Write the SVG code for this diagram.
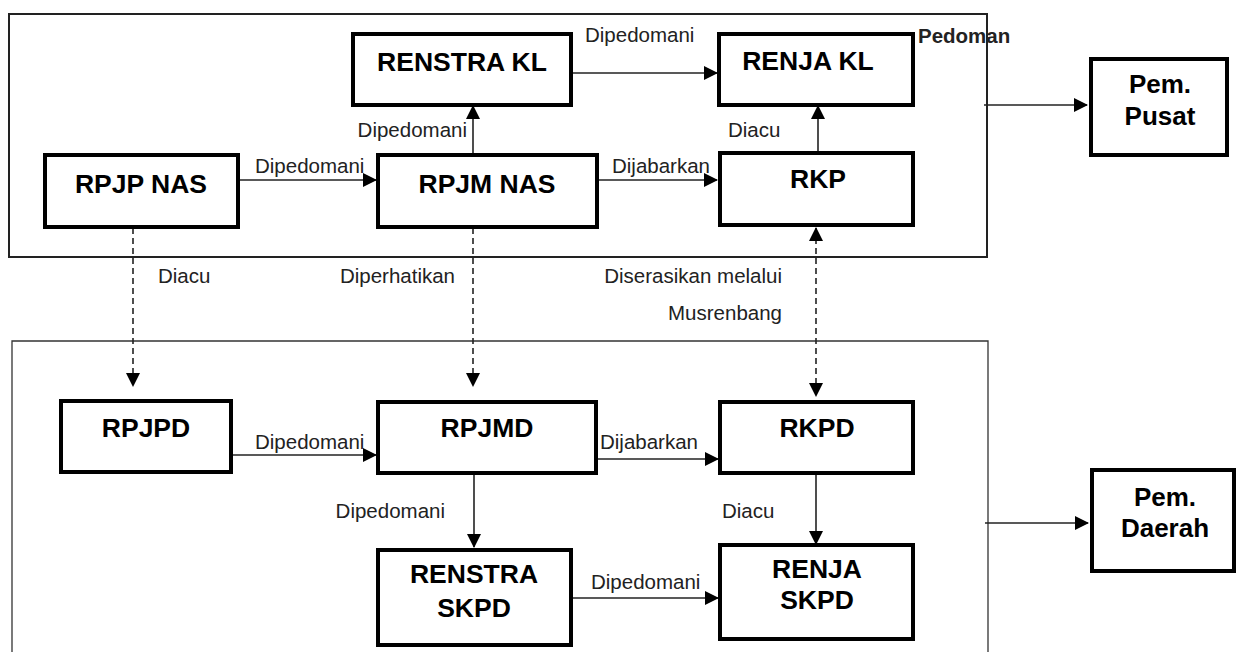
<svg xmlns="http://www.w3.org/2000/svg" width="1239" height="652" viewBox="0 0 1239 652">
<style>
.frame{fill:none;stroke:#222;stroke-width:2}
.frame2{fill:none;stroke:#333;stroke-width:1.3}
.box{fill:#fff;stroke:#000;stroke-width:4}
.nt{font-family:"Liberation Sans",Arial,sans-serif;font-weight:bold;font-size:26.5px;fill:#000;text-anchor:middle}
.pt{font-family:"Liberation Sans",Arial,sans-serif;font-weight:bold;font-size:26px;fill:#000;text-anchor:middle}
.lb{font-family:"Liberation Sans",Arial,sans-serif;font-size:20.5px;fill:#222}
.ln{stroke:#222;stroke-width:1.6;fill:none}
.dl{stroke:#222;stroke-width:1.6;fill:none;stroke-dasharray:6,4}
</style>
<defs>
<marker id="ah" markerWidth="14" markerHeight="14" refX="13" refY="7" orient="auto" markerUnits="userSpaceOnUse">
<path d="M0,0 L14,7 L0,14 z" fill="#000"/>
</marker>
<marker id="as" markerWidth="14" markerHeight="14" refX="1" refY="7" orient="auto" markerUnits="userSpaceOnUse">
<path d="M14,0 L0,7 L14,14 z" fill="#000"/>
</marker>
</defs>
<rect class="frame" x="9" y="14" width="978" height="243"/>
<path class="frame2" d="M12,652 L12,341 L988,341 L988,652"/>
<g id="connectors">
<line class="ln" x1="231" y1="180" x2="376" y2="180" marker-end="url(#ah)"/>
<line class="ln" x1="473" y1="153" x2="473" y2="106" marker-end="url(#ah)"/>
<line class="ln" x1="573" y1="73" x2="717" y2="73" marker-end="url(#ah)"/>
<line class="ln" x1="599" y1="180" x2="717" y2="180" marker-end="url(#ah)"/>
<line class="ln" x1="818" y1="153" x2="818" y2="106" marker-end="url(#ah)"/>
<line class="ln" x1="984" y1="105" x2="1087" y2="105" marker-end="url(#ah)"/>
<line class="dl" x1="133" y1="228" x2="133" y2="386" marker-end="url(#ah)"/>
<line class="dl" x1="473" y1="228" x2="473" y2="386" marker-end="url(#ah)"/>
<line class="dl" x1="816" y1="228" x2="816" y2="396" marker-start="url(#as)" marker-end="url(#ah)"/>
<line class="ln" x1="232" y1="455" x2="376" y2="455" marker-end="url(#ah)"/>
<line class="ln" x1="598" y1="459" x2="718" y2="459" marker-end="url(#ah)"/>
<line class="ln" x1="474" y1="475" x2="474" y2="547" marker-end="url(#ah)"/>
<line class="ln" x1="816" y1="475" x2="816" y2="544" marker-end="url(#ah)"/>
<line class="ln" x1="573" y1="598" x2="718" y2="598" marker-end="url(#ah)"/>
<line class="ln" x1="985" y1="523" x2="1088" y2="523" marker-end="url(#ah)"/>
</g>
<g id="labels">
<text class="lb" x="255" y="173">Dipedomani</text>
<text class="lb" x="467" y="137" text-anchor="end">Dipedomani</text>
<text class="lb" x="585" y="42">Dipedomani</text>
<text class="lb" x="612" y="173">Dijabarkan</text>
<text class="lb" x="728" y="137">Diacu</text>
<text x="918" y="43" font-family="'Liberation Sans',Arial,sans-serif" font-weight="bold" font-size="20.5" fill="#222">Pedoman</text>
<text class="lb" x="158" y="283">Diacu</text>
<text class="lb" x="455" y="283" text-anchor="end">Diperhatikan</text>
<text class="lb" x="782" y="283" text-anchor="end">Diserasikan melalui</text>
<text class="lb" x="782" y="320" text-anchor="end">Musrenbang</text>
<text class="lb" x="255" y="449">Dipedomani</text>
<text class="lb" x="600" y="449">Dijabarkan</text>
<text class="lb" x="445" y="518" text-anchor="end">Dipedomani</text>
<text class="lb" x="722" y="518">Diacu</text>
<text class="lb" x="591" y="589">Dipedomani</text>
</g>
<g id="renstra-kl"><rect class="box" x="353" y="34" width="218" height="71"/><text class="nt" x="462" y="71">RENSTRA KL</text></g>
<g id="renja-kl"><rect class="box" x="719" y="34" width="194" height="71"/><text class="nt" x="808" y="70">RENJA KL</text></g>
<g id="pem-pusat"><rect class="box" x="1091" y="59" width="136" height="96"/><text class="pt" x="1160" y="93">Pem.</text><text class="pt" x="1160" y="125">Pusat</text></g>
<g id="rpjp-nas"><rect class="box" x="45" y="155" width="193" height="72"/><text class="nt" x="141" y="193">RPJP NAS</text></g>
<g id="rpjm-nas"><rect class="box" x="378" y="155" width="219" height="72"/><text class="nt" x="487" y="193">RPJM NAS</text></g>
<g id="rkp"><rect class="box" x="720" y="153" width="193" height="72"/><text class="nt" x="818" y="188">RKP</text></g>
<g id="rpjpd"><rect class="box" x="61" y="401" width="170" height="71"/><text class="nt" x="146" y="437">RPJPD</text></g>
<g id="rpjmd"><rect class="box" x="378" y="402" width="218" height="71"/><text class="nt" x="487" y="437">RPJMD</text></g>
<g id="rkpd"><rect class="box" x="720" y="402" width="193" height="71"/><text class="nt" x="817" y="437">RKPD</text></g>
<g id="renstra-skpd"><rect class="box" x="378" y="550" width="193" height="95"/><text class="nt" x="474" y="583">RENSTRA</text><text class="nt" x="474" y="617">SKPD</text></g>
<g id="renja-skpd"><rect class="box" x="720" y="545" width="193" height="94"/><text class="nt" x="817" y="578">RENJA</text><text class="nt" x="817" y="609">SKPD</text></g>
<g id="pem-daerah"><rect class="box" x="1092" y="470" width="142" height="101"/><text class="pt" x="1165" y="506">Pem.</text><text class="pt" x="1165" y="537">Daerah</text></g>
</svg>
